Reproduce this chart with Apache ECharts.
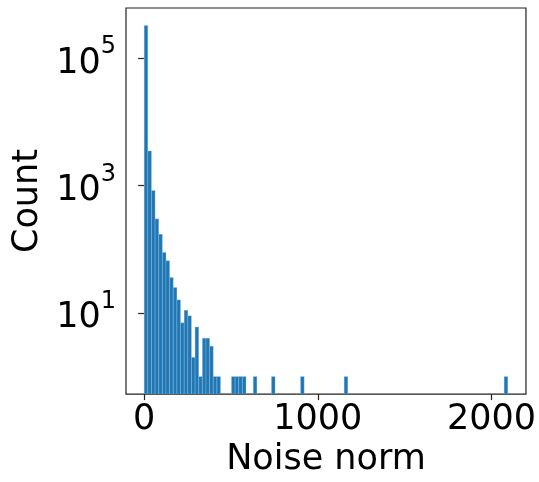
<!DOCTYPE html>
<html>
<head>
<meta charset="utf-8">
<script src="https://cdn.jsdelivr.net/npm/echarts@6/dist/echarts.min.js"></script>
<style>html,body{margin:0;padding:0;background:#fff}#c{width:539px;height:482px}</style>
</head>
<body>
<div id="c"></div>
<script>
// Histogram of noise norms: 100 equal-width bins from 0 to 2094
const binMin = 0;
const binMax = 2094;
const binCount = 100;
const counts = [
  325000, 3490, 838, 300, 172, 89, 66, 36, 25, 16,
  7, 11, 9, 2, 6, 1, 4, 4, 3, 1,
  1, 0, 0, 0, 1, 1, 1, 1, 0, 0,
  1, 0, 0, 0, 0, 1, 0, 0, 0, 0,
  0, 0, 0, 1, 0, 0, 0, 0, 0, 0,
  0, 0, 0, 0, 0, 1, 0, 0, 0, 0,
  0, 0, 0, 0, 0, 0, 0, 0, 0, 0,
  0, 0, 0, 0, 0, 0, 0, 0, 0, 0,
  0, 0, 0, 0, 0, 0, 0, 0, 0, 0,
  0, 0, 0, 0, 0, 0, 0, 0, 0, 1
];
const xTickValues = [0, 1000, 2000];
const yTickValues = [10, 1000, 100000];
const xTitle = 'Noise norm';
const yTitle = 'Count';

const binWidth = (binMax - binMin) / binCount;
const xPad = (binMax - binMin) * 0.05;
const yMin = 0.53, yMax = 613000;

const barData = [];
counts.forEach((c, i) => {
  if (c > 0) barData.push([binMin + i * binWidth, binMin + (i + 1) * binWidth, c]);
});

const FONT = 'DejaVu Sans';
const FS = 35;
const chart = echarts.init(document.getElementById('c'));
chart.setOption({
  animation: false,
  backgroundColor: '#fff',
  grid: {left: 126, right: 9, top: 8, bottom: 80, show: true, borderColor: '#222', borderWidth: 1.2, backgroundColor: 'transparent'},
  xAxis: {
    type: 'value', min: binMin - xPad, max: binMax + xPad,
    name: xTitle, nameLocation: 'middle', nameGap: 47,
    nameTextStyle: {fontFamily: FONT, fontSize: FS, color: '#000'},
    axisLine: {show: false},
    splitLine: {show: false},
    axisTick: {show: true, length: 6, lineStyle: {color: '#222', width: 1.2}, customValues: xTickValues},
    axisLabel: {fontFamily: FONT, fontSize: FS, color: '#000', margin: 8, customValues: xTickValues, formatter: v => String(v)}
  },
  yAxis: {
    type: 'log', logBase: 10, min: yMin, max: yMax,
    name: yTitle, nameLocation: 'middle', nameGap: 81,
    nameTextStyle: {fontFamily: FONT, fontSize: FS, color: '#000'},
    axisLine: {show: false},
    splitLine: {show: false},
    minorTick: {show: false},
    axisTick: {show: true, length: 6, lineStyle: {color: '#222', width: 1.2}, customValues: yTickValues},
    axisLabel: {
      fontFamily: FONT, color: '#000', margin: 10, customValues: yTickValues,
      formatter: v => '{b|10}{s|' + Math.round(Math.log10(v)) + '}',
      rich: {
        b: {fontFamily: FONT, fontSize: FS, color: '#000', verticalAlign: 'bottom', lineHeight: 46},
        s: {fontFamily: FONT, fontSize: 24, color: '#000', verticalAlign: 'top', lineHeight: 46}
      }
    }
  },
  series: [{
    type: 'custom',
    clip: true,
    data: barData,
    encode: {x: [0, 1], y: 2},
    renderItem: (params, api) => {
      const p0 = api.coord([api.value(0), api.value(2)]);
      const p1 = api.coord([api.value(1), yMin]);
      return {
        type: 'rect',
        shape: {x: p0[0], y: p0[1], width: p1[0] - p0[0], height: p1[1] - p0[1]},
        style: {fill: '#1f77b4', stroke: 'rgba(170,205,235,0.6)', lineWidth: 0.5}
      };
    }
  }]
});
</script>
</body>
</html>
